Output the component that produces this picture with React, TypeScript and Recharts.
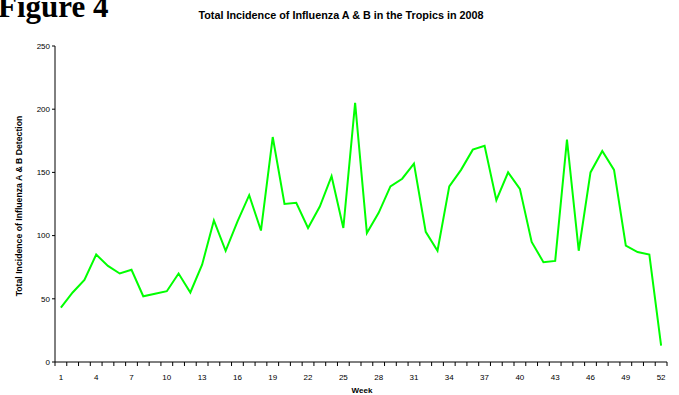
import { LineChart, Line, XAxis, YAxis } from "recharts";

const weeks = Array.from({ length: 52 }, (_, i) => i + 1);
const incidence = [
  43, 55, 65, 85, 76, 70, 73, 52, 54, 56,
  70, 55, 77, 112, 88, 111, 132, 104, 178, 125,
  126, 106, 123, 147, 106, 205, 102, 118, 139, 145,
  157, 103, 88, 139, 152, 168, 171, 128, 150, 137,
  95, 79, 80, 176, 88, 150, 167, 152, 92, 87,
  85, 13,
];
const weekLabels = [1, 4, 7, 10, 13, 16, 19, 22, 25, 28, 31, 34, 37, 40, 43, 46, 49, 52];
const yTicks = [0, 50, 100, 150, 200, 250];

const data = weeks.map((w, i) => ({ week: w, value: incidence[i] }));
// tick marks sit between the weeks, like a category axis
const boundaries = Array.from({ length: 53 }, (_, i) => i + 0.5);

const W = 679;
const H = 395;
const PLOT_LEFT = 55;
const PLOT_RIGHT = 667;
const HALF_BAND = (PLOT_RIGHT - PLOT_LEFT) / 52 / 2;
const FONT = "'Liberation Sans', Arial, sans-serif";

function WeekTick(props: any) {
  const { x, y, payload } = props;
  const wk = payload.value + 0.5;
  if (!weekLabels.includes(wk)) return <g />;
  return (
    <text x={x + HALF_BAND} y={y + 12} textAnchor="middle" fontSize={8} fontFamily={FONT} fill="#000">
      {wk}
    </text>
  );
}

export default function App() {
  return (
    <div style={{ position: "absolute", left: 0, top: 0, width: W, height: H, background: "#fff", overflow: "hidden" }}>
      <LineChart width={W} height={H} data={data} margin={{ top: 46, right: W - PLOT_RIGHT, bottom: 13, left: 15 }}>
        <XAxis
          dataKey="week"
          type="number"
          domain={[0.5, 52.5]}
          ticks={boundaries}
          interval={0}
          tick={<WeekTick />}
          tickSize={4}
          height={20}
          stroke="#000"
          tickLine={{ stroke: "#000" }}
        />
        <YAxis
          domain={[0, 250]}
          ticks={yTicks}
          width={40}
          tickSize={3}
          stroke="#000"
          tick={{ fontSize: 8, fill: "#000", fontFamily: FONT }}
        />
        <Line
          type="linear"
          dataKey="value"
          stroke="#00ff00"
          strokeWidth={2}
          dot={false}
          isAnimationActive={false}
        />
        <text x={-2} y={17} fontSize={31} fontWeight="bold" fontFamily="'Liberation Serif', 'Times New Roman', serif" fill="#000">
          Figure 4
        </text>
        <text x={341} y={19} textAnchor="middle" fontSize={10.8} fontWeight="bold" fontFamily={FONT} fill="#000">
          Total Incidence of Influenza A &amp; B in the Tropics in 2008
        </text>
        <text
          x={22}
          y={206}
          textAnchor="middle"
          fontSize={8.7}
          fontWeight="bold"
          fontFamily={FONT}
          fill="#000"
          transform="rotate(-90 22 206)"
        >
          Total Incidence of Influenza A &amp; B Detection
        </text>
        <text x={362} y={393} textAnchor="middle" fontSize={8} fontWeight="bold" fontFamily={FONT} fill="#000">
          Week
        </text>
      </LineChart>
    </div>
  );
}
